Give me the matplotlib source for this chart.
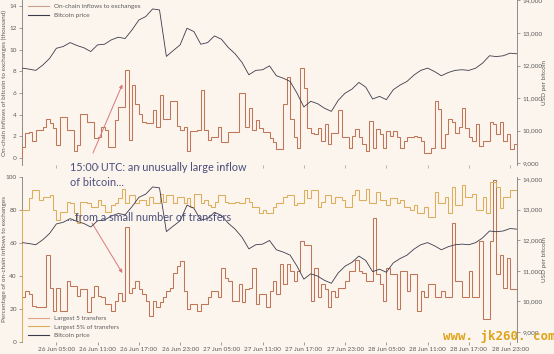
import numpy as np
import matplotlib
matplotlib.use("Agg")
import matplotlib.pyplot as plt
from matplotlib.ticker import FuncFormatter

# ---------------- data ----------------
# half-hourly bins from 26 Jun 00:00 to 29 Jun 00:00 (hours)
bin_hours = 0.5
inflows = [1.0, 2.3, 2.4, 1.6, 2.6, 2.6, 2.9, 3.6, 3.2, 2.8,
           1.2, 3.8, 3.8, 2.6, 2.6, 0.6, 1.2, 4.1, 4.1, 3.3,
           3.3, 1.8, 1.9, 2.9, 2.6, 1.0, 1.0, 3.5, 4.7, 4.7,
           8.1, 1.7, 6.7, 5.0, 4.1, 3.3, 3.2, 3.2, 4.4, 2.9,
           5.8, 3.6, 3.6, 5.3, 5.3, 3.0, 2.6, 2.9, 0.6, 2.5,
           2.5, 2.6, 6.3, 2.6, 1.7, 1.9, 1.9, 2.9, 1.5, 1.5,
           2.4, 2.4, 2.4, 6.0, 6.0, 2.9, 4.6, 2.6, 3.5, 2.8,
           2.4, 2.4, 1.8, 1.5, 0.8, 0.8, 5.0, 7.5, 3.6, 1.9,
           0.9, 8.3, 6.5, 2.8, 2.3, 2.2, 2.8, 1.6, 3.1, 1.25,
           2.3, 2.3, 4.4, 1.9, 1.9, 0.9, 2.0, 2.65, 1.9, 1.25,
           0.6, 3.4, 0.9, 2.65, 2.2, 0.9, 2.5, 2.0, 2.5, 1.9,
           0.9, 1.6, 1.9, 1.9, 2.0, 1.9, 1.6, 0.5, 0.5, 0.9,
           5.3, 4.5, 0.9, 2.2, 3.6, 3.3, 2.3, 2.9, 4.6, 2.8,
           1.9, 1.6, 3.1, 1.1, 1.6, 1.6, 3.3, 3.1, 2.2, 3.3,
           1.6, 2.2, 0.8, 1.25]

largest5 = [27, 31, 29, 22, 21, 21, 21, 53, 33, 19,
            33, 19, 19, 37, 34, 34, 28, 32, 32, 18,
            27, 34, 28, 27, 23, 23, 19, 25, 30, 25,
            70, 30, 33, 37, 32, 29, 25, 16, 25, 21,
            24, 27, 31, 33, 42, 46, 49, 31, 20, 23,
            23, 19, 23, 23, 27, 31, 31, 27, 45, 39,
            37, 25, 25, 35, 24, 32, 33, 45, 23, 29,
            29, 21, 31, 37, 29, 47, 35, 47, 43, 37,
            43, 61, 59, 59, 25, 45, 27, 35, 32, 21,
            31, 27, 33, 33, 37, 43, 43, 50, 43, 42,
            37, 37, 75, 41, 35, 25, 45, 41, 41, 20,
            43, 43, 31, 41, 41, 19, 31, 27, 35, 35,
            27, 27, 31, 27, 27, 72, 37, 37, 27, 27,
            43, 27, 27, 61, 14, 14, 61, 98, 41, 53,
            33, 51, 32, 32]

largest5pct = [80, 80, 87, 92, 92, 86, 88, 88, 89, 80,
               74, 79, 79, 85, 84, 78, 72, 85, 85, 84,
               82, 82, 86, 83, 79, 79, 83, 84, 87, 93,
               84, 89, 89, 84, 86, 86, 83, 88, 84, 84,
               90, 85, 89, 89, 84, 88, 88, 84, 87, 82,
               90, 90, 84, 86, 83, 82, 85, 89, 89, 85,
               84, 84, 85, 84, 84, 87, 85, 82, 82, 78,
               80, 78, 78, 82, 84, 84, 88, 89, 89, 83,
               84, 84, 92, 87, 92, 92, 82, 85, 89, 89,
               84, 88, 88, 86, 82, 82, 89, 92, 86, 86,
               93, 84, 84, 91, 86, 86, 83, 87, 87, 84,
               86, 82, 82, 80, 83, 78, 78, 82, 76, 76,
               91, 84, 84, 88, 78, 94, 83, 83, 95, 88,
               88, 90, 80, 80, 88, 78, 97, 97, 94, 81,
               88, 88, 92, 92]

# hourly bitcoin price (USD), 26 Jun 00:00 .. 29 Jun 00:00
price = [11920, 11890, 11850, 12010, 12215, 12530, 12585, 12705, 12615, 12545,
         12430, 12635, 12655, 12790, 12870, 12830, 13095, 13400, 13505, 13740,
         13710, 12280, 12460, 12635, 13145, 13045, 12655, 12705, 12910, 12810,
         12555, 12360, 12095, 11715, 11850, 11870, 11990, 11685, 11610, 11510,
         11150, 10725, 10900, 10825, 10685, 10590, 10930, 11150, 11275, 11480,
         11335, 10970, 11050, 10950, 11255, 11400, 11510, 11705, 11850, 11920,
         11815, 11685, 11785, 11850, 11870, 11850, 11920, 12075, 12300, 12275,
         12300, 12380, 12360]

tick_hours = [5, 11, 17, 23, 29, 35, 41, 47, 53, 59, 65, 71]
tick_labels = ["26 Jun 05:00", "26 Jun 11:00", "26 Jun 17:00", "26 Jun 23:00",
               "27 Jun 05:00", "27 Jun 11:00", "27 Jun 17:00", "27 Jun 23:00",
               "28 Jun 05:00", "28 Jun 11:00", "28 Jun 17:00", "28 Jun 23:00"]

# ---------------- style ----------------
BG = "#fcf5ed"
ORANGE = "#c07656"
GOLD = "#dcae5c"
DARK = "#3b3b4c"
TXT = "#5a5a5a"
SPINE = "#7a7a7a"
ANN = "#4b4f7c"
ARROW = "#d9787a"
FONT = "Lato"

plt.rcParams["font.family"] = [FONT, "DejaVu Sans"]
plt.rcParams["axes.linewidth"] = 0.6

W, H = 554, 354
fig = plt.figure(figsize=(W / 100, H / 100), dpi=100, facecolor=BG)

def px_box(x0, y0, x1, y1):
    return [x0 / W, 1 - y1 / H, (x1 - x0) / W, (y1 - y0) / H]

ax1 = fig.add_axes(px_box(22, 0, 517, 165))
ax2 = fig.add_axes(px_box(22, 177, 517, 342))

n = len(inflows)
edges = np.arange(n + 1) * bin_hours
ph = np.arange(len(price))


def style(ax, axr):
    for a in (ax, axr):
        a.set_facecolor("none")
        a.spines["top"].set_visible(False)
        a.spines["bottom"].set_visible(False)
        a.tick_params(colors=SPINE, labelcolor=TXT, labelsize=4.6, length=2.5, width=0.5, pad=1.2)
    ax.spines["right"].set_visible(False)
    axr.spines["left"].set_visible(False)
    ax.spines["left"].set_color(SPINE)
    axr.spines["right"].set_color(SPINE)
    ax.set_xlim(0, 72)
    ax.set_xticks(tick_hours)
    ax.yaxis.set_label_coords(-0.031, 0.5)
    axr.yaxis.set_label_coords(1.05, 0.5)

# top panel
ax1.set_facecolor(BG)
ax1r = ax1.twinx()
ax1.stairs(inflows, edges, color=ORANGE, lw=0.75, zorder=3)
ax1r.plot(ph, price, color=DARK, lw=0.6)
ax1.set_ylim(-0.65, 14.6)
ax1.set_yticks(range(0, 15, 2))
ax1r.set_ylim(8940, 14015)
ax1r.set_yticks(range(9000, 14001, 1000))
style(ax1, ax1r)
ax1.set_xticklabels([])
ax1.tick_params(axis="x", length=2, colors="#999999")
ax1r.yaxis.set_major_formatter(FuncFormatter(lambda v, p: f"{int(v):,}"))
ax1.set_ylabel("On-chain inflows of bitcoin to exchanges (thousand)", fontsize=4.6, color=TXT)
ax1r.set_ylabel("USD per bitcoin", fontsize=4.6, color=TXT)
h1 = [plt.Line2D([], [], color="#c8a090", lw=0.8), plt.Line2D([], [], color=DARK, lw=0.8)]
ax1.legend(h1, ["On-chain inflows to exchanges", "Bitcoin price"], loc="upper left",
           bbox_to_anchor=(0.005, 1.0), frameon=False, fontsize=4.6, handlelength=3.2,
           labelcolor=TXT, borderaxespad=0.2, labelspacing=0.5)

# bottom panel
ax2.set_facecolor(BG)
ax2r = ax2.twinx()
ax2.stairs(largest5, edges, color=ORANGE, lw=0.75, zorder=3)
ax2.stairs(largest5pct, edges, color=GOLD, lw=0.75, zorder=3)
ax2r.plot(ph, price, color=DARK, lw=0.6)
ax2.set_ylim(0, 100)
ax2.set_yticks(range(0, 101, 20))
ax2r.set_ylim(8670, 14065)
ax2r.set_yticks(range(9000, 14001, 1000))
style(ax2, ax2r)
ax2.set_xticklabels(tick_labels)
ax2r.yaxis.set_major_formatter(FuncFormatter(lambda v, p: f"{int(v):,}"))
ax2.set_ylabel("Percentage of on-chain inflows to exchanges", fontsize=4.6, color=TXT)
ax2r.set_ylabel("USD per bitcoin", fontsize=4.6, color=TXT)
h2 = [plt.Line2D([], [], color="#e0a488", lw=0.8), plt.Line2D([], [], color=GOLD, lw=0.8),
      plt.Line2D([], [], color=DARK, lw=0.8)]
ax2.legend(h2, ["Largest 5 transfers", "Largest 5% of transfers", "Bitcoin price"], loc="lower left",
           bbox_to_anchor=(0.005, 0.0), frameon=False, fontsize=4.6, handlelength=3.2,
           labelcolor=TXT, borderaxespad=0.2, labelspacing=0.5)

# annotations
fig.text(70 / W, 1 - 171 / H, "15:00 UTC: an unusually large inflow", fontsize=7.8, color=ANN, va="baseline")
fig.text(70 / W, 1 - 186 / H, "of bitcoin...", fontsize=7.8, color=ANN, va="baseline")
fig.text(67 / W, 1 - 221 / H, "...from a small number of transfers", fontsize=7.8, color=ANN, va="baseline", zorder=10)
ax1.annotate("", xy=(14.6, 6.8), xycoords="data", xytext=(93, H - 153), textcoords="figure pixels",
             arrowprops=dict(arrowstyle="-|>", color=ARROW, lw=0.7, mutation_scale=5, shrinkA=0, shrinkB=0))
ax2.annotate("", xy=(14.6, 41.8), xycoords="data", xytext=(92, H - 223), textcoords="figure pixels",
             arrowprops=dict(arrowstyle="-|>", color=ARROW, lw=0.7, mutation_scale=5, shrinkA=0, shrinkB=0))

fig.text(443 / W, 1 - 340 / H, "www. jk260. com", fontsize=9, color="#e0a31a",
         family="DejaVu Sans Mono", weight="bold", va="baseline")

fig.savefig("out.png", dpi=100, facecolor=BG)
